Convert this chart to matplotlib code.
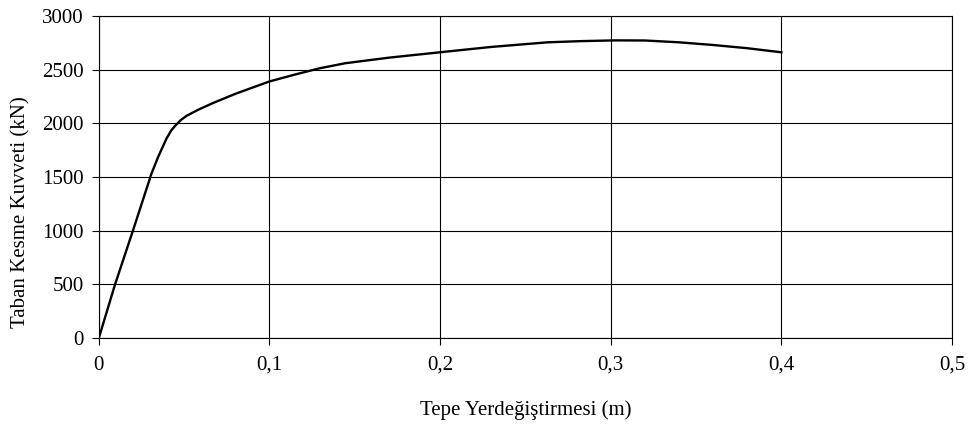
import matplotlib
matplotlib.use("Agg")
import matplotlib.pyplot as plt
from matplotlib.ticker import FuncFormatter

# tepe yerdeğiştirmesi (m) ve taban kesme kuvveti (kN)
disp = [0.0, 0.0094, 0.0201, 0.0309, 0.0348, 0.0397, 0.0425, 0.0446, 0.048, 0.0514,
        0.058, 0.067, 0.08, 0.0999, 0.115, 0.1294, 0.1444, 0.17, 0.2016, 0.23,
        0.263, 0.2825, 0.3025, 0.32, 0.34, 0.36, 0.38, 0.40]
shear = [0, 494, 1006, 1534, 1689, 1860, 1935, 1975, 2030, 2070,
         2125, 2190, 2275, 2390, 2455, 2513, 2560, 2612, 2665, 2712,
         2755, 2766, 2773, 2772, 2755, 2730, 2700, 2662]

x_ticks = [0, 0.1, 0.2, 0.3, 0.4, 0.5]
y_ticks = [0, 500, 1000, 1500, 2000, 2500, 3000]

plt.rcParams['font.family'] = ['Liberation Serif', 'DejaVu Serif']
plt.rcParams['font.size'] = 15

fig = plt.figure(figsize=(9.69, 4.26), dpi=100)
ax = fig.add_axes([0.102, 0.2066, 0.8805, 0.7558])

ax.plot(disp, shear, color='black', lw=1.7, solid_joinstyle='round')

ax.set_xlim(0, 0.5)
ax.set_ylim(0, 3000)
ax.set_xticks(x_ticks)
ax.set_yticks(y_ticks)
ax.xaxis.set_major_formatter(FuncFormatter(lambda v, p: ('%g' % v).replace('.', ',')))
ax.grid(True, color='black', lw=0.8)
for s in ax.spines.values():
    s.set_linewidth(0.8)
ax.tick_params(direction='out', length=5, width=0.8, pad=6)
ax.tick_params(axis='x', pad=8)

ax.set_xlabel('Tepe Yerdeğiştirmesi (m)', labelpad=18)
ax.set_ylabel('Taban Kesme Kuvveti (kN)', labelpad=8)
ax.yaxis.set_label_coords(-0.08, 0.39)

fig.savefig('out.png', dpi=100)
